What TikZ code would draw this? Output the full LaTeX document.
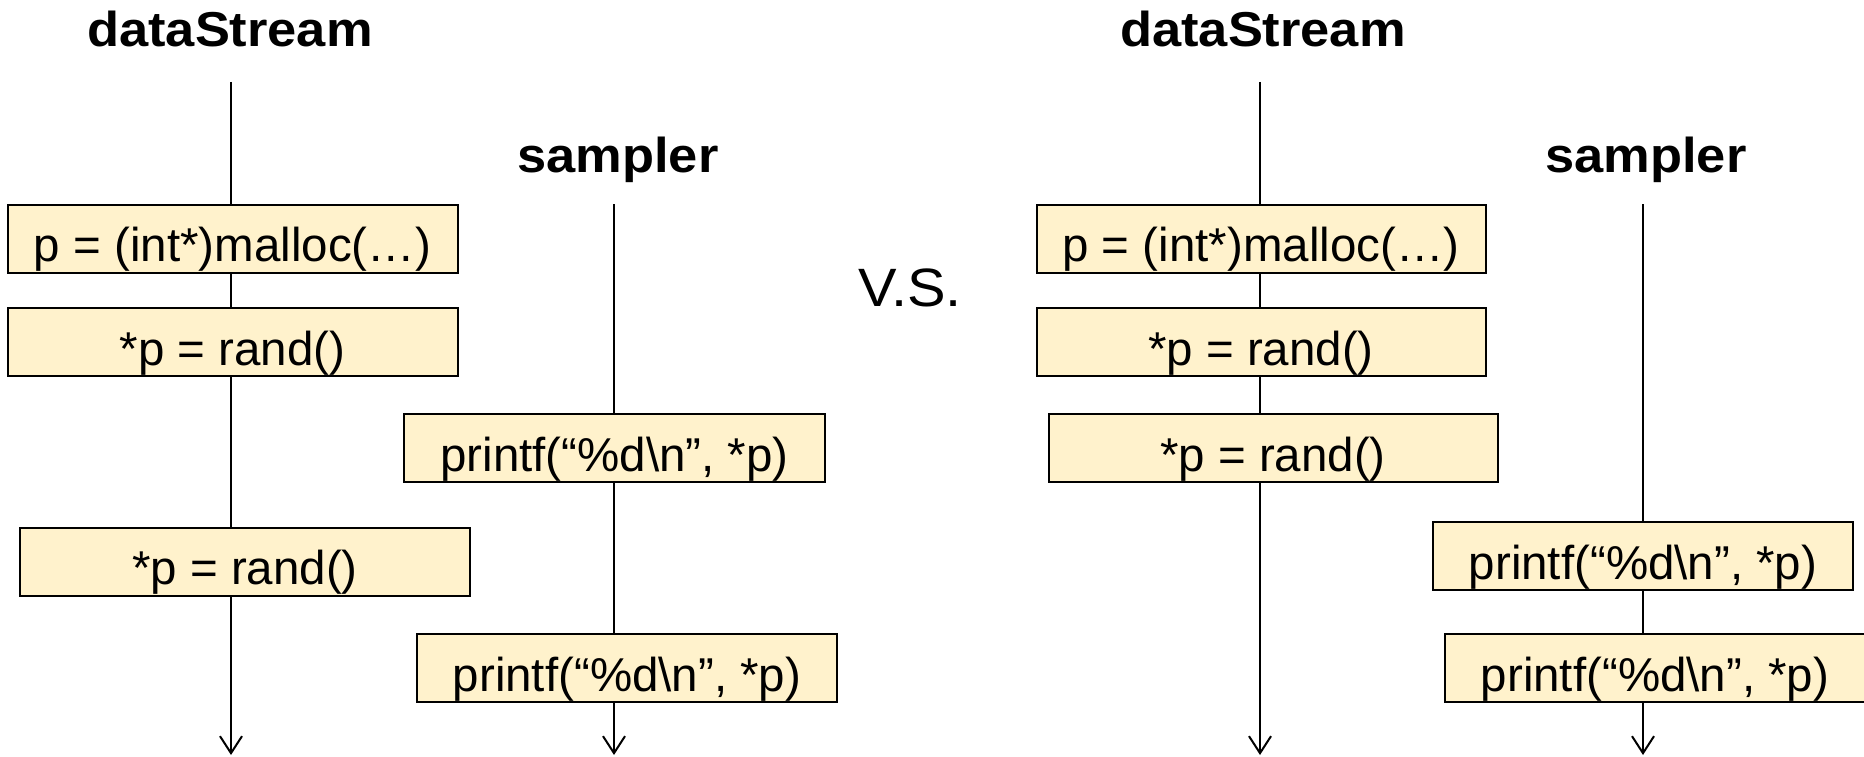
\documentclass[tikz,border=0pt]{standalone}
\usepackage{fontspec}
\setmainfont{Liberation Sans}
\newfontfamily\headfont[FakeStretch=1.07]{Liberation Sans}
\usetikzlibrary{arrows.meta}
\definecolor{boxfill}{HTML}{FFF2CC}

\begin{document}
\begin{tikzpicture}[x=1pt,y=-1pt,
  lifeline/.style={line width=2pt,-{Straight Barb[length=17pt,width=22pt]}},
  stmt/.style={draw=black,line width=2pt,fill=boxfill,inner xsep=0pt,inner ysep=0pt,
    minimum height=68pt,text height=57pt,text depth=11pt,
    font=\fontsize{47.5}{54}\selectfont},
  title/.style={anchor=base,font=\headfont\bfseries\fontsize{49}{56}\selectfont}]
\useasboundingbox (0,0) rectangle (1864,757);

% ---------- left scenario ----------
\node[title] (dsL) at (230,46.7) {dataStream};
\node[title] (spL) at (618,172) {sampler};
\coordinate (dsL-top) at (231,82);
\coordinate (dsL-end) at (231,755);
\coordinate (spL-top) at (614,204);
\coordinate (spL-end) at (614,755);
\draw[lifeline] (dsL-top) -- (dsL-end);
\draw[lifeline] (spL-top) -- (spL-end);

\node[stmt,minimum width=450pt] (mallocL) at (232.5,238.5) {p = (int*)malloc(…)};
\node[stmt,minimum width=450pt] (randL1) at (232.5,342) {*p = rand()};
\node[stmt,minimum width=421pt] (printL1) at (614.5,448) {printf(“\%d\textbackslash n”, *p)};
\node[stmt,minimum width=450pt] (randL2) at (245,561.5) {*p = rand()};
\node[stmt,minimum width=420pt] (printL2) at (627,668) {printf(“\%d\textbackslash n”, *p)};

% ---------- separator ----------
\node[anchor=base,font=\headfont\fontsize{54}{60}\selectfont] (vs) at (910,306) {V.S.};

% ---------- right scenario ----------
\node[title] (dsR) at (1263,46.7) {dataStream};
\node[title] (spR) at (1646,172) {sampler};
\coordinate (dsR-top) at (1260,82);
\coordinate (dsR-end) at (1260,755);
\coordinate (spR-top) at (1643,204);
\coordinate (spR-end) at (1643,755);
\draw[lifeline] (dsR-top) -- (dsR-end);
\draw[lifeline] (spR-top) -- (spR-end);

\node[stmt,minimum width=449pt] (mallocR) at (1261,238.5) {p = (int*)malloc(…)};
\node[stmt,minimum width=449pt] (randR1) at (1261,342) {*p = rand()};
\node[stmt,minimum width=449pt] (randR2) at (1273,448) {*p = rand()};
\node[stmt,minimum width=420pt] (printR1) at (1643,556) {printf(“\%d\textbackslash n”, *p)};
\node[stmt,minimum width=420pt] (printR2) at (1655,668) {printf(“\%d\textbackslash n”, *p)};
\end{tikzpicture}
\end{document}
